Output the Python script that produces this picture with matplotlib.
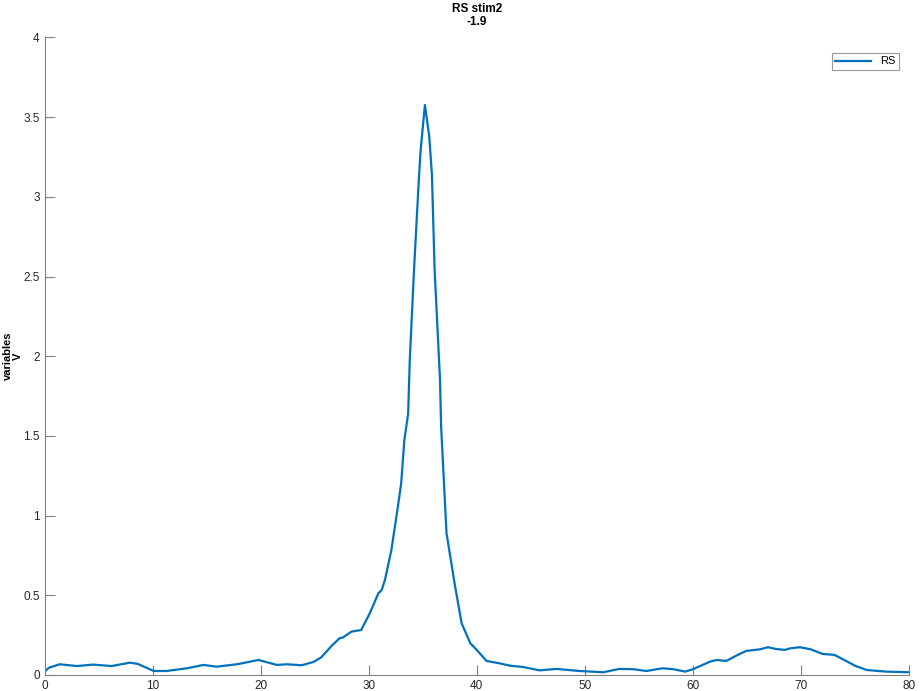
import matplotlib
matplotlib.use('Agg')
import matplotlib.pyplot as plt
import numpy as np

# RS trace
t = [0.0, 0.4, 1.4, 3.0, 4.5, 6.2, 7.9, 8.6, 10.1, 11.3, 13.2, 14.7, 15.9, 17.8,
     19.8, 21.5, 22.4, 23.8, 24.9, 25.6, 26.6, 27.3, 27.6, 28.4, 29.3, 30.1, 30.9,
     31.2, 31.5, 32.1, 32.7, 33.0, 33.3, 33.65, 33.8, 34.2, 34.6, 34.8, 35.2, 35.6,
     35.85, 36.1, 36.6, 36.7, 37.2, 38.0, 38.6, 39.4, 40.0, 40.9, 42.1, 43.1, 44.3,
     45.8, 47.4, 49.5, 51.7, 53.2, 54.5, 55.7, 57.2, 58.2, 59.3, 60.0, 61.6, 62.2,
     63.1, 64.0, 64.95, 66.2, 66.95, 67.7, 68.5, 69.0, 69.9, 70.9, 72.0, 73.1, 73.9,
     75.0, 76.1, 77.9, 80.0]
rs = [0.021, 0.045, 0.067, 0.056, 0.065, 0.056, 0.077, 0.07, 0.025, 0.025, 0.042,
      0.063, 0.052, 0.067, 0.094, 0.063, 0.067, 0.061, 0.082, 0.11, 0.185, 0.23,
      0.235, 0.272, 0.282, 0.387, 0.513, 0.533, 0.596, 0.784, 1.056, 1.20, 1.474,
      1.64, 1.976, 2.55, 3.06, 3.29, 3.576, 3.38, 3.14, 2.54, 1.85, 1.56, 0.889,
      0.554, 0.324, 0.199, 0.157, 0.088, 0.073, 0.058, 0.05, 0.029, 0.038, 0.025,
      0.017, 0.038, 0.036, 0.025, 0.042, 0.036, 0.021, 0.036, 0.084, 0.094, 0.088,
      0.121, 0.151, 0.161, 0.174, 0.163, 0.157, 0.167, 0.174, 0.161, 0.132, 0.126,
      0.098, 0.058, 0.031, 0.021, 0.017]

plt.rcParams['font.family'] = ['Liberation Sans', 'DejaVu Sans']

fig = plt.figure(figsize=(9.22, 6.91), dpi=100)
ax = fig.add_axes([0.0483, 0.0232, 0.9376, 0.9226])

ax.plot(t, rs, color='#0072BD', lw=1.6, label='RS')

ax.set_xlim(0, 80)
ax.set_ylim(0, 4)
ax.set_xticks(np.arange(0, 81, 10))
ax.set_yticks(np.arange(0, 4.01, 0.5))
ax.set_yticklabels(['0', '0.5', '1', '1.5', '2', '2.5', '3', '3.5', '4'])

for s in ['top', 'right']:
    ax.spines[s].set_visible(False)
for s in ['left', 'bottom']:
    ax.spines[s].set_color('#808080')
    ax.spines[s].set_linewidth(0.8)
ax.tick_params(direction='in', length=7, width=0.8, colors='#808080',
               labelcolor='#262626', labelsize=8.5)

ax.set_title('RS stim2\n-1.9', fontsize=8.5, fontweight='bold', pad=9,
             linespacing=1.15)
ax.set_ylabel('variables\nV', fontsize=8, fontweight='bold',
              linespacing=1.05)
ax.yaxis.set_label_coords(-0.025, 0.5)

leg = ax.legend(loc='upper right', fontsize=8, frameon=True, fancybox=False,
                handlelength=3.2, borderpad=0.35, bbox_to_anchor=(0.995, 0.985))
leg.get_frame().set_edgecolor('#808080')
leg.get_frame().set_linewidth(0.8)

fig.savefig('out.png', dpi=100)
